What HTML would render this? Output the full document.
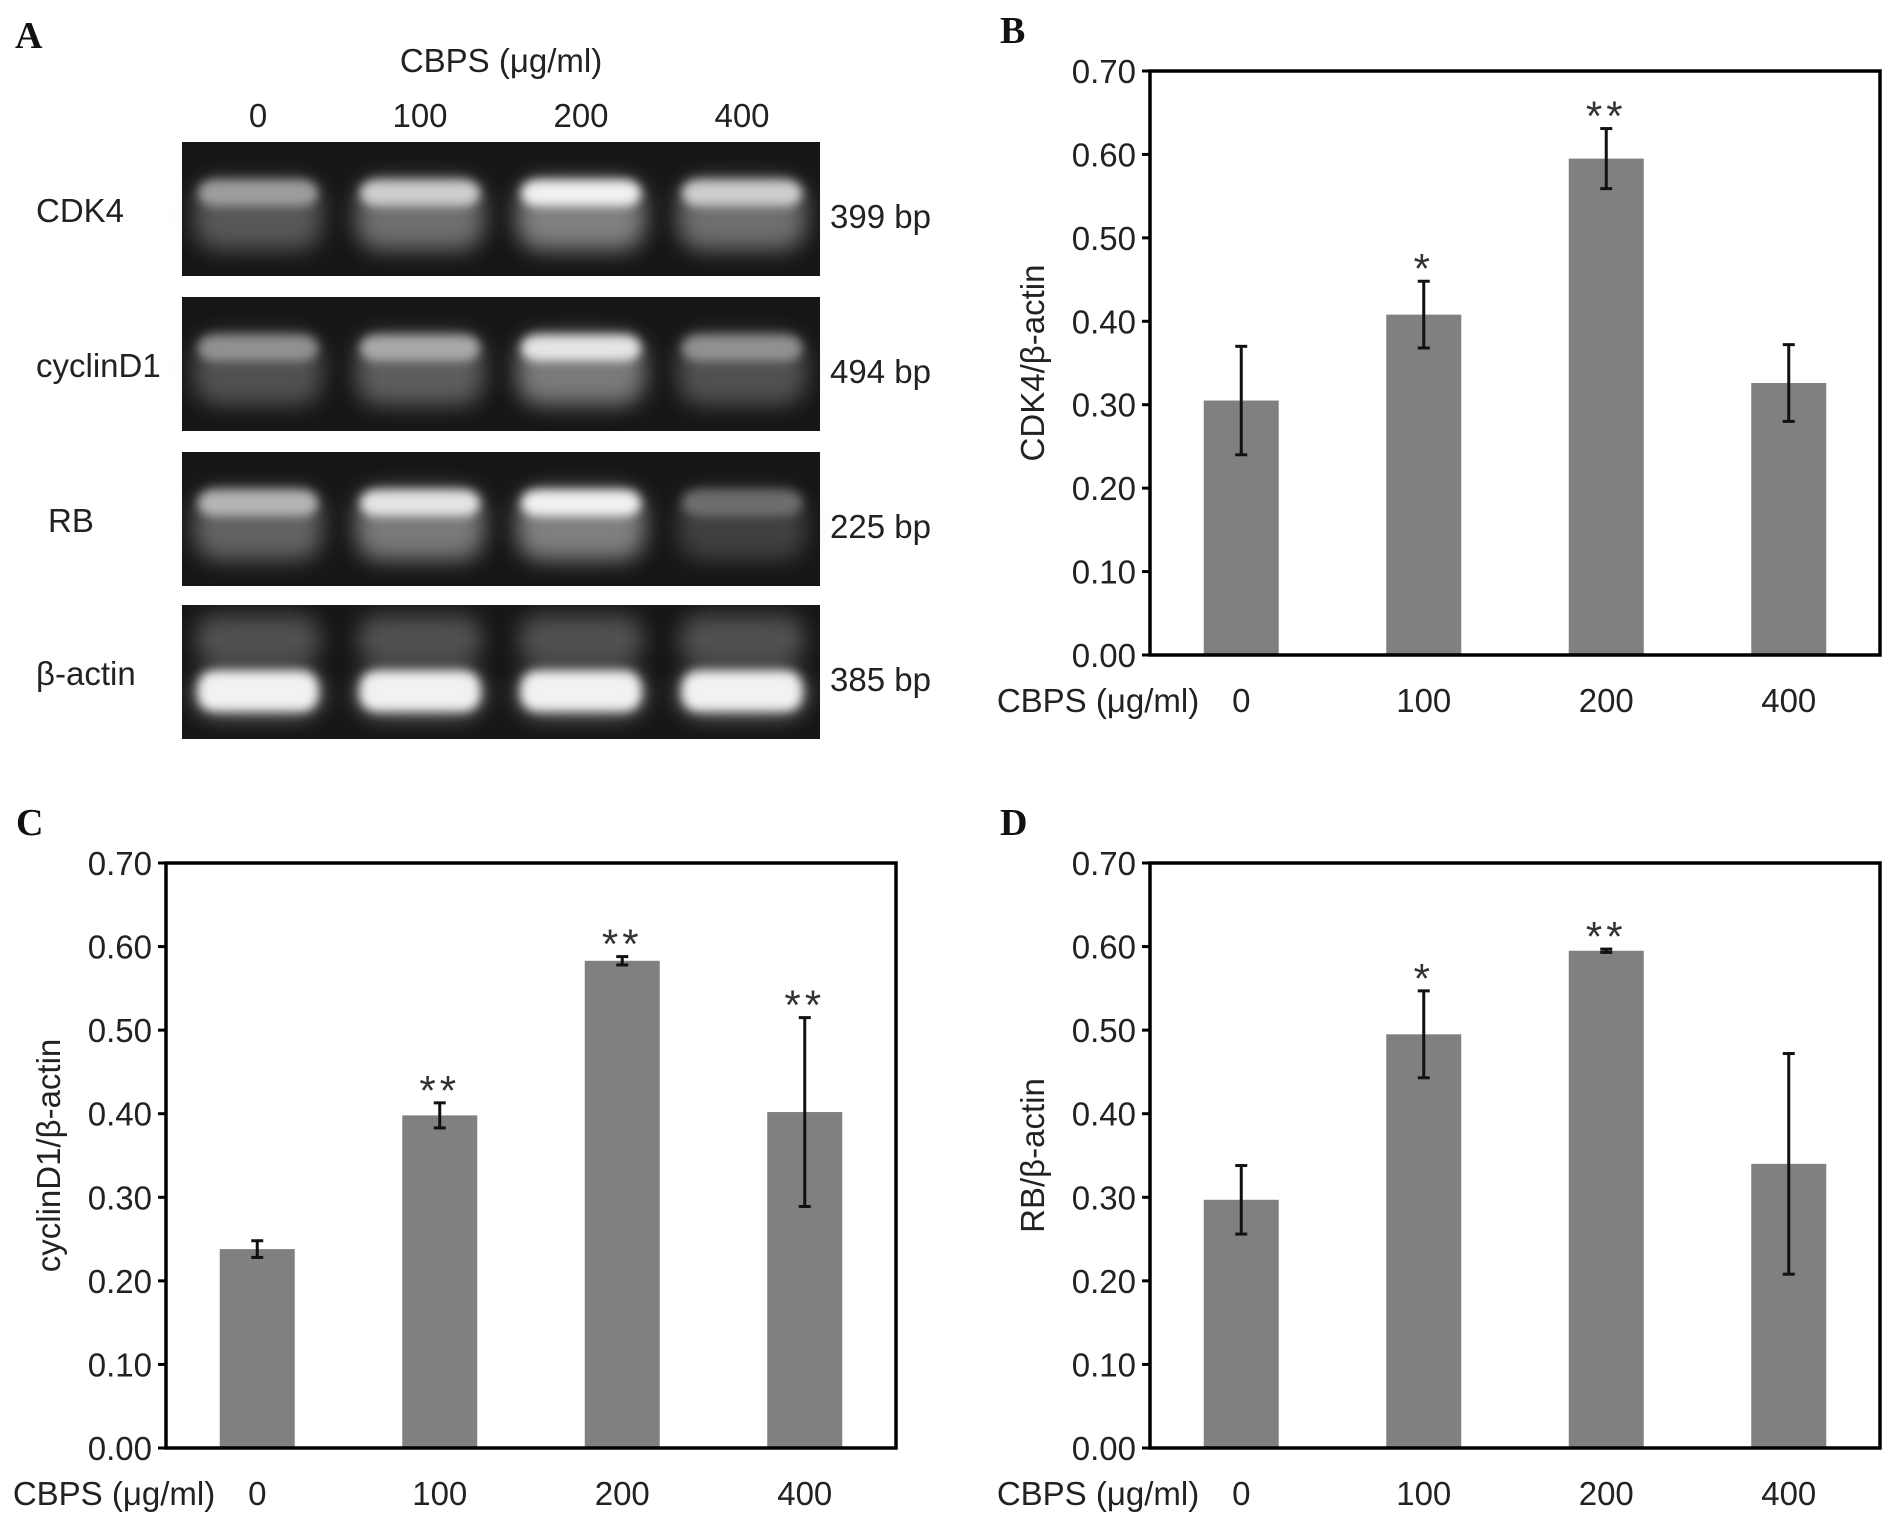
<!DOCTYPE html>
<html><head><meta charset="utf-8"><style>
html,body{margin:0;padding:0;background:#fff;}
svg{display:block;font-family:"Liberation Sans",Arial,sans-serif;}
</style></head><body>
<svg id="fig" width="1898" height="1526" viewBox="0 0 1898 1526">
<defs>
<filter id="blur" x="-30%" y="-60%" width="160%" height="220%"><feGaussianBlur stdDeviation="11"/></filter>
<filter id="blur2" x="-30%" y="-60%" width="160%" height="220%"><feGaussianBlur stdDeviation="5"/></filter>
</defs>
<g id="panelA"></g>
<g id="panelB"></g>
<g id="panelC"></g>
<g id="panelD"></g>
</svg>
<script>
const categories = ["0","100","200","400"];
const yTicks = ["0.00","0.10","0.20","0.30","0.40","0.50","0.60","0.70"];
const cdk4Values = [0.305,0.408,0.595,0.326];
const cdk4Errors = [0.065,0.040,0.036,0.046];
const cdk4Stars = ["","*","**",""];
const cyclinValues = [0.238,0.398,0.583,0.402];
const cyclinErrors = [0.010,0.015,0.005,0.113];
const cyclinStars = ["","**","**","**"];
const rbValues = [0.297,0.495,0.595,0.340];
const rbErrors = [0.041,0.052,0.002,0.132];
const rbStars = ["","*","**",""];
const gelGenes = ["CDK4","cyclinD1","RB","β-actin"];
const gelSizes = ["399 bp","494 bp","225 bp","385 bp"];
const gelIntensity = [[0.65,0.85,1.0,0.85],[0.6,0.7,0.95,0.6],[0.75,0.95,1.0,0.45],[1.0,1.0,1.0,1.0]];

const NS="http://www.w3.org/2000/svg";
const FS=33;
function mk(tag,attrs,parent,text){const e=document.createElementNS(NS,tag);for(const k in attrs)e.setAttribute(k,attrs[k]);if(text!==undefined)e.textContent=text;parent.appendChild(e);return e;}

function letter(g,ch,x,y){
  const t=mk('text',{x:x,y:y,'font-family':'"Liberation Serif",serif','font-weight':'bold','font-size':38,fill:'#111'},g,ch);
  
  
}

function chart(gid,L,R,T,B,values,errors,stars,ytitle,ch){
  const g=document.getElementById(gid);
  const ymax=0.7;
  const yS=v=>B-(v/ymax)*(B-T);
  const n=categories.length;
  const bw=(R-L)/n;
  const xS=i=>L+bw*(i+0.5);
  const barW=75;
  letter(g,ch,L-150,T-28);
  yTicks.forEach(t=>{
    const v=parseFloat(t),y=yS(v);
    const tk=mk('line',{x1:L-8,x2:L,y1:y,y2:y,stroke:'#000','stroke-width':3},g);
    
    
    const lb=mk('text',{x:L-14,y:y+12,'text-anchor':'end','font-size':FS,fill:'#222'},g,t);
    
    
  });
  values.forEach((v,i)=>{
    const cx=xS(i);
    const r=mk('rect',{x:cx-barW/2,y:yS(v),width:barW,height:B-yS(v),fill:'#808080'},g);
    
    
    const e=errors[i],y1=yS(v+e),y2=yS(v-e);
    const eg=mk('g',{stroke:'#111','stroke-width':3},g);
    
    
    mk('line',{x1:cx,x2:cx,y1:y1,y2:y2},eg);
    mk('line',{x1:cx-6,x2:cx+6,y1:y1,y2:y1},eg);
    mk('line',{x1:cx-6,x2:cx+6,y1:y2,y2:y2},eg);
    if(stars[i]){
      const s=mk('text',{x:cx,y:y1+2,'text-anchor':'middle','font-family':'"Liberation Sans",sans-serif','font-size':42,fill:'#333','letter-spacing':'4'},g,stars[i]);
      
      
    }
    const xl=mk('text',{x:cx,y:B+57,'text-anchor':'middle','font-size':FS,fill:'#222'},g,categories[i]);
    
    
  });
  const frame=mk('rect',{x:L,y:T,width:R-L,height:B-T,fill:'none',stroke:'#000','stroke-width':3.5},g);
  
  
  const xt=mk('text',{x:L-52,y:B+57,'text-anchor':'middle','font-size':FS,fill:'#222'},g,'CBPS (μg/ml)');
  
  
  const yt=mk('text',{x:0,y:0,'text-anchor':'middle','font-size':FS,fill:'#222',transform:`translate(${L-106},${(T+B)/2}) rotate(-90)`},g,ytitle);
  
  
}

chart('panelB',1150,1880,71,655,cdk4Values,cdk4Errors,cdk4Stars,'CDK4/β-actin','B');
chart('panelC',166,896,863,1448,cyclinValues,cyclinErrors,cyclinStars,'cyclinD1/β-actin','C');
chart('panelD',1150,1880,863,1448,rbValues,rbErrors,rbStars,'RB/β-actin','D');

(function(){
  const g=document.getElementById('panelA');
  letter(g,'A',15,48);
  const h=mk('text',{x:501,y:72,'text-anchor':'middle','font-size':FS,fill:'#222'},g,'CBPS (μg/ml)');
  
  
  const lanes=[258,420,581,742];
  categories.forEach((c,i)=>{
    const t=mk('text',{x:lanes[i],y:127,'text-anchor':'middle','font-size':FS,fill:'#222'},g,c);
    
    
  });
  const rows=[142,297,452,605];
  rows.forEach((ry,r)=>{
    const box=mk('rect',{x:182,y:ry,width:638,height:134,fill:'#161616'},g);
    
    
    const by = r===3 ? ry+66 : ry+38;
    lanes.forEach((lx,i)=>{
      const a=gelIntensity[r][i];
      const c=Math.round(255*a);
      const col=`rgb(${c},${c},${c})`;
      if(r===3) mk('rect',{x:lx-62,y:ry+10,width:124,height:50,rx:20,fill:col,opacity:0.25,filter:'url(#blur)'},g);
      mk('rect',{x:lx-64,y:by,width:128,height:r===3?45:70,rx:25,fill:col,opacity:0.45,filter:'url(#blur)'},g);
      const band=mk('rect',{x:lx-60,y:by,width:120,height:r===3?40:26,rx:16,fill:col,opacity:0.9,filter:'url(#blur2)'},g);
      
      
    });
    const gl=mk('text',{x:r===2?48:36,y:ry+80,'font-size':FS,fill:'#222'},g,gelGenes[r]);
    
    
    const sl=mk('text',{x:830,y:ry+86,'font-size':FS,fill:'#222'},g,gelSizes[r]);
    
    
  });
})();
</script>
</body></html>
